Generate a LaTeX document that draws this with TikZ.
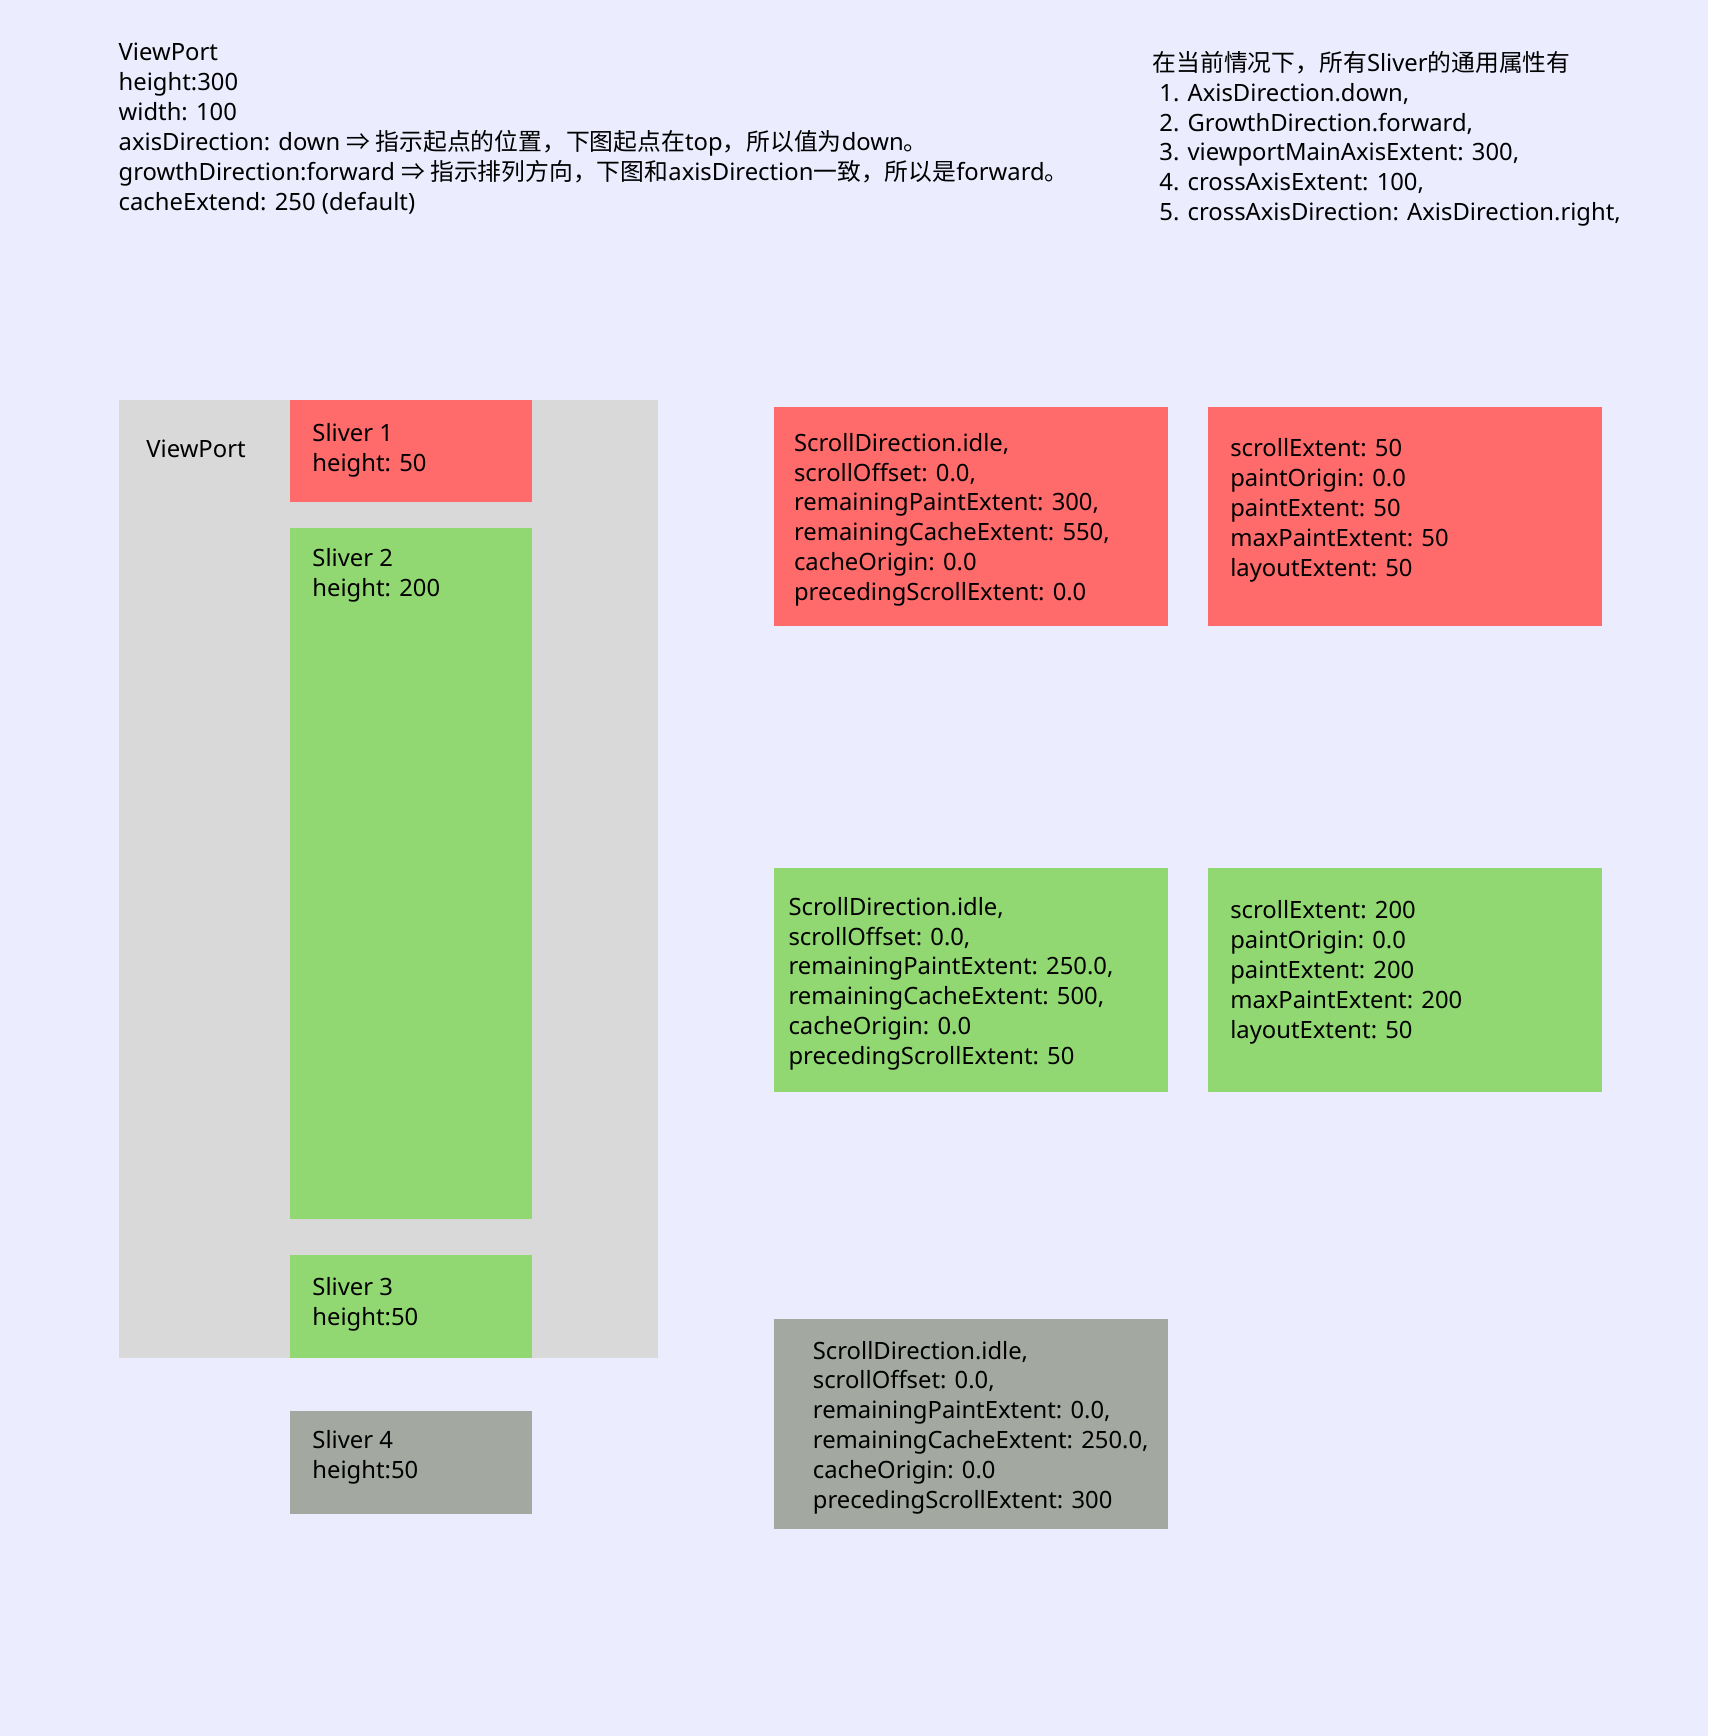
\documentclass[tikz,border=0pt]{standalone}
\usepackage{fontspec}
\setmainfont{Noto Sans}
\newfontfamily\cjk{Noto Sans CJK SC}
\definecolor{bgcol}{RGB}{235,236,254}
\definecolor{vpgray}{RGB}{217,217,217}
\definecolor{slred}{RGB}{255,107,107}
\definecolor{slgreen}{RGB}{145,216,114}
\definecolor{slgray}{RGB}{163,168,160}

\begin{document}
\begin{tikzpicture}[x=1pt,y=-1pt,font=\fontsize{21.5}{27}\selectfont,
panel/.style={fill=#1,inner sep=0pt,anchor=north west,minimum width=356pt},
sliver/.style={panel=#1,minimum width=218pt},
txt/.style={anchor=north west,align=left,inner sep=0pt,execute at begin node=\strut}]
\useasboundingbox[fill=bgcol] (0,0) rectangle (1543,1568);
% notes on top (first baseline 19pt below the anchor)
\node[txt] (vpnote) at (107,39) {ViewPort\\height:300\\width: 100\\
axisDirection: down {\cjk ⇒ 指示起点的位置，下图起点在}top{\cjk ，所以值为}down{\cjk 。}\\
growthDirection:forward {\cjk ⇒ 指示排列方向，下图和}axisDirection{\cjk 一致，所以是}forward{\cjk 。}\\
cacheExtend: 250 (default)};
\node[txt] (common) at (1041,46) {{\cjk 在当前情况下，所有}Sliver{\cjk 的通用属性有}\\
\hspace*{6pt}1. AxisDirection.down,\\
\hspace*{6pt}2. GrowthDirection.forward,\\
\hspace*{6pt}3. viewportMainAxisExtent: 300,\\
\hspace*{6pt}4. crossAxisExtent: 100,\\
\hspace*{6pt}5. crossAxisDirection: AxisDirection.right,};
% viewport with slivers
\node[panel=vpgray,minimum width=487pt,minimum height=865pt] (viewport) at (107,361) {};
\node[txt] (vplabel) at ([shift={(25,33)}]viewport.north west) {ViewPort};
\node[sliver=slred,minimum height=92pt] (s1) at (262,361) {};
\node[sliver=slgreen,minimum height=624pt] (s2) at (262,477) {};
\node[sliver=slgreen,minimum height=93pt] (s3) at (262,1133) {};
\node[sliver=slgray,minimum height=93pt] (s4) at (262,1274) {};
\node[txt] (s1txt) at ([shift={(20,21)}]s1.north west) {Sliver 1\\height: 50};
\node[txt] (s2txt) at ([shift={(20,18)}]s2.north west) {Sliver 2\\height: 200};
\node[txt] (s3txt) at ([shift={(20,21)}]s3.north west) {Sliver 3\\height:50};
\node[txt] (s4txt) at ([shift={(20,18)}]s4.north west) {Sliver 4\\height:50};
% constraints and geometry
\node[panel=slred,minimum height=198pt] (r1) at (699,367) {};
\node[panel=slred,minimum height=198pt] (r2) at (1091,367) {};
\node[panel=slgreen,minimum height=202pt] (g1) at (699,784) {};
\node[panel=slgreen,minimum height=202pt] (g2) at (1091,784) {};
\node[panel=slgray,minimum height=190pt] (c1) at (699,1191) {};
\node[txt] (r1txt) at ([shift={(18,24)}]r1.north west) {ScrollDirection.idle,\\scrollOffset: 0.0,\\
remainingPaintExtent: 300,\\remainingCacheExtent: 550,\\cacheOrigin: 0.0\\precedingScrollExtent: 0.0};
\node[txt] (r2txt) at ([shift={(20,29)}]r2.north west) {scrollExtent: 50\\paintOrigin: 0.0\\
paintExtent: 50\\maxPaintExtent: 50\\layoutExtent: 50};
\node[txt] (g1txt) at ([shift={(13,26)}]g1.north west) {ScrollDirection.idle,\\scrollOffset: 0.0,\\
remainingPaintExtent: 250.0,\\remainingCacheExtent: 500,\\cacheOrigin: 0.0\\precedingScrollExtent: 50};
\node[txt] (g2txt) at ([shift={(20,29)}]g2.north west) {scrollExtent: 200\\paintOrigin: 0.0\\
paintExtent: 200\\maxPaintExtent: 200\\layoutExtent: 50};
\node[txt] (c1txt) at ([shift={(35,20)}]c1.north west) {ScrollDirection.idle,\\scrollOffset: 0.0,\\
remainingPaintExtent: 0.0,\\remainingCacheExtent: 250.0,\\cacheOrigin: 0.0\\precedingScrollExtent: 300};
\end{tikzpicture}
\end{document}
